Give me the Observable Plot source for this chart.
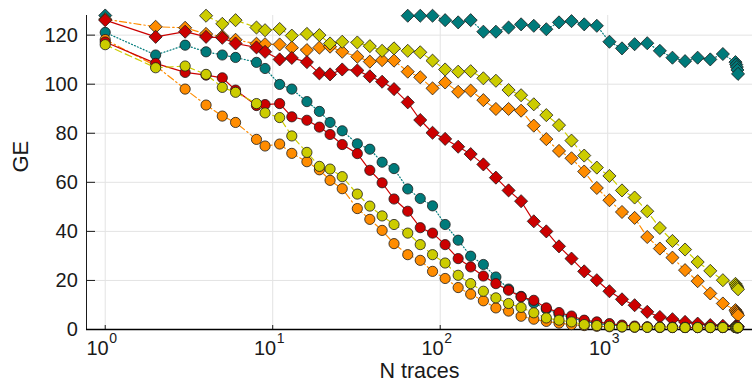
<!DOCTYPE html>
<html><head><meta charset="utf-8">
<script src="https://cdn.jsdelivr.net/npm/d3@7"></script>
<script src="https://cdn.jsdelivr.net/npm/@observablehq/plot@0.6"></script>
<style>
html,body{margin:0;padding:0;background:#fff}
#chart svg{display:block}
</style>
</head><body><div id="chart"></div>
<script>
// N traces (x)
const nTraces = [1,2,3,4,5,6,8,9,11,13,16,19,22,26,32,38,45,53,64,76,90,107,128,152,181,215,256,304,362,430,512,608,724,861,1024,1217,1448,1722,2048,2435,2896,3444,4096,4870,5792,5850,5900,5950,6000];

// GE values – circles
const tealCircle = [121.1,111.9,115.9,113.2,111.9,110.9,108.9,106.4,99.9,98.0,92.9,88.9,84.4,81.0,75.7,73.5,68.2,65.6,57.3,53.4,50.4,42.8,36.4,29.9,26.5,21.4,16.5,13.5,10.8,8.3,6.3,4.8,3.4,2.5,1.9,1.4,1.1,1.0,0.9,0.9,0.8,0.8,0.8,0.8,0.8,0.8,0.8,0.8,0.8];
const redCircle = [117.2,108.5,104.8,103.7,102.6,97.6,91.3,91.7,92.1,86.7,85.3,82.5,79.5,75.4,71.7,64.9,59.8,53.2,48.2,41.5,39.3,34.6,28.9,25.5,21.8,18.7,16.0,13.3,11.9,8.8,6.9,5.5,3.8,3.1,2.4,1.8,1.4,1.1,1.0,0.9,0.9,0.8,0.8,0.8,0.8,0.8,0.8,0.8,0.8];
const orangeCircle = [118.2,107.5,98.0,91.5,87.0,84.4,77.5,74.8,75.6,71.8,68.4,65.1,60.8,57.4,49.3,44.9,40.4,35.0,30.5,28.2,23.7,20.8,17.1,14.4,11.7,8.8,7.5,5.4,4.2,3.3,2.6,2.0,1.6,1.3,1.1,1.0,0.9,0.9,0.8,0.8,0.8,0.8,0.8,0.8,0.8,0.8,0.8,0.8,0.8];
const yellowCircle = [116.1,106.7,107.4,104.0,98.7,96.7,92.1,88.3,86.4,78.9,72.2,66.5,65.4,62.3,55.2,50.3,46.3,42.8,39.3,34.6,30.5,27.1,22.1,18.7,15.6,12.9,10.6,9.0,6.8,4.7,3.8,3.1,2.0,1.6,1.3,1.1,1.0,0.9,0.9,0.8,0.8,0.8,0.8,0.8,0.8,0.8,0.8,0.8,0.8];

// GE values – diamonds (null = above the visible range)
const tealDiamond = [128.0,null,null,null,null,null,null,null,null,null,null,null,null,null,null,null,null,null,127.9,127.9,127.9,126.1,125.2,126.1,121.4,121.4,123.1,124.4,123.8,122.4,125.2,125.7,124.4,123.8,117.3,114.6,116.3,116.7,113.6,110.8,109.4,110.8,110.1,112.3,109.0,108.0,107.0,105.8,104.2];
const redDiamond = [126.1,119.3,121.4,119.3,118.9,116.6,115.0,113.2,110.1,110.7,109.0,104.4,104.0,106.0,105.6,103.2,101.0,98.0,92.6,85.4,80.2,77.7,74.5,71.5,67.3,61.9,56.7,52.3,44.1,40.0,33.9,28.9,23.7,20.1,15.6,12.3,9.9,7.2,5.1,4.2,3.1,2.4,1.8,1.5,1.3,1.2,1.2,1.1,1.1];
const orangeDiamond = [126.5,123.4,123.0,120.5,119.5,118.1,116.5,116.3,116.2,114.9,113.9,114.9,115.3,113.2,111.2,109.2,109.8,109.6,105.1,102.8,98.3,100.7,96.9,97.4,93.5,89.9,89.9,89.2,83.1,77.6,72.8,69.8,64.4,57.7,52.7,47.9,45.5,37.7,33.0,29.3,24.2,19.7,14.7,10.6,7.9,7.3,6.8,6.3,5.8];
const yellowDiamond = [null,null,null,127.9,124.6,126.1,123.1,122.0,122.5,119.8,120.5,120.0,116.6,117.3,117.0,115.5,113.6,114.6,113.6,113.0,109.6,106.0,105.1,105.3,102.4,101.4,97.6,95.5,91.8,87.4,83.3,77.0,70.9,66.0,62.6,56.7,53.8,48.2,41.4,36.1,32.6,27.5,23.9,20.1,18.6,18.0,17.4,16.9,16.4];

const xTicks = [1, 10, 100, 1000];
const yTicks = [0, 20, 40, 60, 80, 100, 120];
const xLabel = "N traces";
const yLabel = "GE";

// styles
const TEAL = "#007b7b", RED = "#cc0000", ORANGE = "#ff8c00", YELLOW = "#cccc00";
const DASH = {teal: "1,2.2", red: null, orange: "7,3,1.5,3", yellow: "7,4"};
const series = [
  {name: "teal-d", values: tealDiamond, color: TEAL, dash: DASH.teal, symbol: "diamond2"},
  {name: "orange-d", values: orangeDiamond, color: ORANGE, dash: DASH.orange, symbol: "diamond2"},
  {name: "red-d", values: redDiamond, color: RED, dash: DASH.red, symbol: "diamond2"},
  {name: "yellow-d", values: yellowDiamond, color: YELLOW, dash: DASH.yellow, symbol: "diamond2"},
  {name: "teal-c", values: tealCircle, color: TEAL, dash: DASH.teal, symbol: "circle"},
  {name: "orange-c", values: orangeCircle, color: ORANGE, dash: DASH.orange, symbol: "circle"},
  {name: "red-c", values: redCircle, color: RED, dash: DASH.red, symbol: "circle"},
  {name: "yellow-c", values: yellowCircle, color: YELLOW, dash: DASH.yellow, symbol: "circle"}
];

const W = 752, H = 385;
const mL = 86, mR = 0, mT = 15, mB = 56;
const xDomain = [0.7731, 7319];
const yDomain = [0, 128];
// helper scales (same as Plot's) used only to size the inward tick marks in pixels
const xs = d3.scaleLog(xDomain, [mL, W - mR]);
const ys = d3.scaleLinear(yDomain, [H - mB, mT]);
const yTickLenX = xs.invert(mL + 9);
const xTickLenY = ys.invert(H - mB - 4);

const dataMarks = [];
for (const s of series) {
  const rows = nTraces.map((n, i) => ({n, ge: s.values[i]}));
  dataMarks.push(Plot.line(rows, {x: "n", y: "ge", stroke: s.color, strokeWidth: 1.2, strokeDasharray: s.dash}));
  dataMarks.push(Plot.dot(rows.filter(d => d.ge != null), {
    x: "n", y: "ge", symbol: () => s.symbol,
    r: s.symbol === "circle" ? 5.1 : 5.9,
    fill: s.color, stroke: "#1a1a1a", strokeWidth: 0.8
  }));
}

const chart = Plot.plot({
  width: W, height: H,
  marginLeft: mL, marginRight: mR, marginTop: mT, marginBottom: mB,
  style: {fontFamily: "'Liberation Sans', Arial, Helvetica, sans-serif", color: "#1a1a1a", background: "#fff"},
  x: {type: "log", domain: xDomain, axis: null},
  y: {domain: yDomain, axis: null},
  symbol: {type: "identity"},
  marks: [
    Plot.ruleX(xTicks, {stroke: "#e3e3e3", strokeWidth: 1}),
    Plot.ruleY(yTicks.filter(v => v > 0), {stroke: "#e3e3e3", strokeWidth: 1}),
    Plot.ruleY(yTicks, {x1: xDomain[0], x2: yTickLenX, stroke: "#1a1a1a", strokeWidth: 1}),
    Plot.ruleX(xTicks, {y1: 0, y2: xTickLenY, stroke: "#1a1a1a", strokeWidth: 1}),
    Plot.ruleX([xDomain[0]], {stroke: "#1a1a1a", strokeWidth: 1}),
    Plot.ruleY([0], {stroke: "#000", strokeWidth: 1.5}),
    Plot.text(yTicks, {y: d => d, frameAnchor: "left", text: d => String(d), textAnchor: "end", dx: -8.7, fontSize: 20, fill: "#1a1a1a"}),
    Plot.text(xTicks, {x: d => d, frameAnchor: "bottom", text: () => "10", textAnchor: "end", dx: 3.5, dy: 25, fontSize: 20, fill: "#1a1a1a"}),
    Plot.text(xTicks, {x: d => d, frameAnchor: "bottom", text: d => String(Math.round(Math.log10(d))), textAnchor: "start", dx: 4, dy: 13.5, fontSize: 14, fill: "#1a1a1a"}),
    Plot.text([xLabel], {frameAnchor: "bottom", text: d => d, dy: 48, fontSize: 21.5, fill: "#1a1a1a"}),
    Plot.text([yLabel], {frameAnchor: "left", text: d => d, rotate: -90, dx: -66, fontSize: 22, fill: "#1a1a1a"}),
    ...dataMarks
  ]
});
document.getElementById("chart").appendChild(chart);
</script>
</body></html>
